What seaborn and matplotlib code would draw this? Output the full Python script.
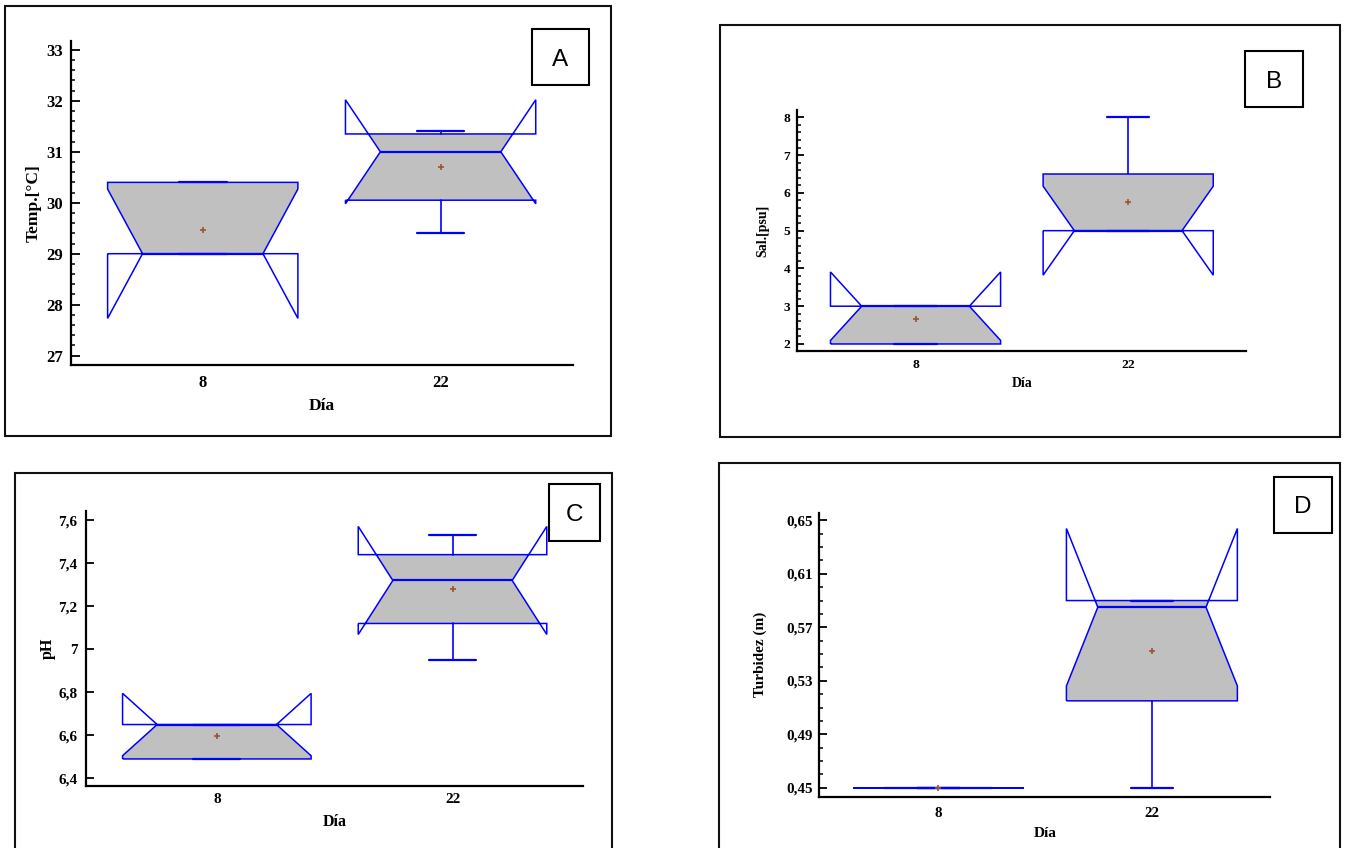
import numpy as np
import pandas as pd
import matplotlib
matplotlib.use("Agg")
import matplotlib.pyplot as plt
from matplotlib.patches import PathPatch, Rectangle
from matplotlib.path import Path
from matplotlib.ticker import FixedLocator, MultipleLocator, FuncFormatter
import seaborn as sns

# Samples per sampling day
dias = ["8", "22"]

temp_dia8 = [29.0, 29.0, 30.4]
temp_dia22 = [29.4, 30.7, 31.3, 31.4]
sal_dia8 = [2.0, 3.0, 3.0]
sal_dia22 = [5.0, 5.0, 5.0, 8.0]
ph_dia8 = [6.49, 6.65, 6.65]
ph_dia22 = [6.95, 7.29, 7.35, 7.53]
turb_dia8 = [0.45, 0.45, 0.45]
turb_dia22 = [0.45, 0.58, 0.59, 0.59]

temp_ticks = [27, 28, 29, 30, 31, 32, 33]
sal_ticks = [2, 3, 4, 5, 6, 7, 8]
ph_ticks = [6.4, 6.6, 6.8, 7.0, 7.2, 7.4, 7.6]
turb_ticks = [0.45, 0.49, 0.53, 0.57, 0.61, 0.65]

BLUE = "#0000FF"
GREY = "#C0C0C0"
BROWN = "#A0522D"
W, H = 1347, 848
BOX_W = 0.8
WAIST = 0.633  # notch waist as a share of the box width

# layout in pixels: axes (left, top, right, bottom), frame, letter box
panels = [
    dict(letter="A", samples=(temp_dia8, temp_dia22), ticks=temp_ticks, ylabel="Temp.[°C]",
         ax_px=(70.5, 40.7, 572.6, 365.3), ylim=(26.81, 33.18), minor=0.2, fmt="{:g}",
         frame_px=(5, 6, 611, 436), letter_px=(531.7, 29, 589.3, 85),
         tick_fs=12, label_fs=12.5, tick_len=6.5, xpad=7, ypad=5.5, xlabelpad=5, ylabelpad=3),
    dict(letter="B", samples=(sal_dia8, sal_dia22), ticks=sal_ticks, ylabel="Sal.[psu]",
         ax_px=(797.3, 110, 1246.2, 351.3), ylim=(1.806, 8.195), minor=0.2, fmt="{:g}",
         frame_px=(720, 24.7, 1340, 436.7), letter_px=(1245.4, 51, 1303.3, 107),
         tick_fs=9.7, label_fs=10, tick_len=5, xpad=5.8, ypad=5, xlabelpad=4, ylabelpad=10.5),
    dict(letter="C", samples=(ph_dia8, ph_dia22), ticks=ph_ticks, ylabel="pH",
         ax_px=(85.8, 511, 583.3, 785.7), ylim=(6.3656, 7.643), minor=None, fmt="{:g}",
         frame_px=(14.5, 472.7, 612, 852), letter_px=(548.8, 484, 600.4, 540.7),
         tick_fs=11, label_fs=11.5, tick_len=6, xpad=5.5, ypad=6, xlabelpad=5.5, ylabelpad=2),
    dict(letter="D", samples=(turb_dia8, turb_dia22), ticks=turb_ticks, ylabel="Turbidez (m)",
         ax_px=(819.4, 512.7, 1270.5, 796.7), ylim=(0.4433, 0.6557), minor=0.01, fmt="{:.2f}",
         frame_px=(719, 463.3, 1340, 852), letter_px=(1273.7, 476.7, 1331.6, 532.7),
         tick_fs=10.8, label_fs=11, tick_len=6, xpad=7.2, ypad=5, xlabelpad=5, ylabelpad=14),
]


def box_stats(values):
    """Quartiles as Statgraphics computes them, notch = median +/- 1.57 IQR / sqrt(n)."""
    v = np.asarray(values, float)
    q1, med, q3 = np.percentile(v, [25, 50, 75], method="averaged_inverted_cdf")
    half = 1.57 * (q3 - q1) / np.sqrt(len(v))
    return dict(med=med, q1=q1, q3=q3, whislo=v.min(), whishi=v.max(),
                cilo=med - half, cihi=med + half, fliers=[])


def draw_panel(fig, p):
    x0, y0, x1, y1 = p["ax_px"]
    ax = fig.add_axes([x0 / W, 1 - y1 / H, (x1 - x0) / W, (y1 - y0) / H])
    positions = np.arange(len(dias))
    stats = [box_stats(s) for s in p["samples"]]

    art = ax.bxp(stats, positions=positions, widths=BOX_W, capwidths=BOX_W * 0.25,
                 shownotches=True, patch_artist=True, showfliers=False, manage_ticks=False,
                 boxprops=dict(facecolor="none", edgecolor=BLUE, linewidth=1.1),
                 medianprops=dict(color=BLUE, linewidth=1.6),
                 whiskerprops=dict(color=BLUE, linewidth=1.2),
                 capprops=dict(color=BLUE, linewidth=1.6))

    # widen the notch waist and fill only the part inside the quartile box
    for box, med_line, pos, st in zip(art["boxes"], art["medians"], positions, stats):
        verts = box.get_path().vertices.copy()
        verts[3, 0] = pos + WAIST * BOX_W / 2
        verts[8, 0] = pos - WAIST * BOX_W / 2
        box.set_path(Path(verts))
        med_line.set_xdata([pos - WAIST * BOX_W / 2, pos + WAIST * BOX_W / 2])

        fill = PathPatch(Path(verts), facecolor=GREY, edgecolor="none", zorder=1.9)
        ax.add_patch(fill)
        fill.set_clip_path(Rectangle((pos - BOX_W / 2, st["q1"]), BOX_W, st["q3"] - st["q1"],
                                     transform=ax.transData))

    # means as brown crosses
    df = pd.DataFrame({"Día": np.repeat(dias, [len(s) for s in p["samples"]]),
                       "valor": np.concatenate(p["samples"])})
    sns.pointplot(data=df, x="Día", y="valor", order=dias, estimator="mean", errorbar=None,
                  color=BROWN, marker="+", linestyle="none", markersize=5,
                  markeredgewidth=1.2, zorder=6, ax=ax)

    ax.set_xlim(-0.556, 1.555)
    ax.set_ylim(*p["ylim"])
    ax.set_xticks(positions)
    ax.set_xticklabels(dias)
    ax.yaxis.set_major_locator(FixedLocator(p["ticks"]))
    if p["minor"]:
        ax.yaxis.set_minor_locator(MultipleLocator(p["minor"]))
    fmt = p["fmt"]
    ax.yaxis.set_major_formatter(FuncFormatter(lambda v, _: fmt.format(v).replace(".", ",")))

    sns.despine(ax=ax)
    for side in ("left", "bottom"):
        ax.spines[side].set_linewidth(1.6)
        ax.spines[side].set_color("black")
    ax.tick_params(axis="y", which="major", direction="in", length=p["tick_len"], width=1.3,
                   pad=p["ypad"], labelsize=p["tick_fs"])
    ax.tick_params(axis="y", which="minor", direction="in", length=2.8, width=1.1)
    ax.tick_params(axis="x", length=0, pad=p["xpad"], labelsize=p["tick_fs"])
    ax.set_xlabel("Día", fontsize=p["label_fs"], labelpad=p["xlabelpad"])
    ax.set_ylabel(p["ylabel"], fontsize=p["label_fs"], labelpad=p["ylabelpad"])
    ax.grid(False)

    # outer frame of the panel and the letter box
    fx0, fy0, fx1, fy1 = p["frame_px"]
    fig.add_artist(Rectangle((fx0 / W, 1 - fy1 / H), (fx1 - fx0) / W, (fy1 - fy0) / H,
                             transform=fig.transFigure, fill=False, ec="#111111", lw=1.5))
    lx0, ly0, lx1, ly1 = p["letter_px"]
    fig.add_artist(Rectangle((lx0 / W, 1 - ly1 / H), (lx1 - lx0) / W, (ly1 - ly0) / H,
                             transform=fig.transFigure, fill=False, ec="black", lw=1.5))
    fig.text((lx0 + lx1) / 2 / W, 1 - (ly0 + ly1) / 2 / H, p["letter"], ha="center",
             va="center_baseline", fontsize=17.5, family="Liberation Sans", weight="normal")


sns.set_style("ticks")
plt.rcParams.update({
    "font.family": ["Liberation Serif", "DejaVu Serif"],
    "font.weight": "bold",
    "axes.labelweight": "bold",
    "axes.edgecolor": "black",
    "axes.labelcolor": "black",
    "xtick.color": "black",
    "ytick.color": "black",
    "text.color": "black",
})

fig = plt.figure(figsize=(W / 100, H / 100), dpi=100)
for panel in panels:
    draw_panel(fig, panel)

fig.savefig("out.png", dpi=100, facecolor="white")
